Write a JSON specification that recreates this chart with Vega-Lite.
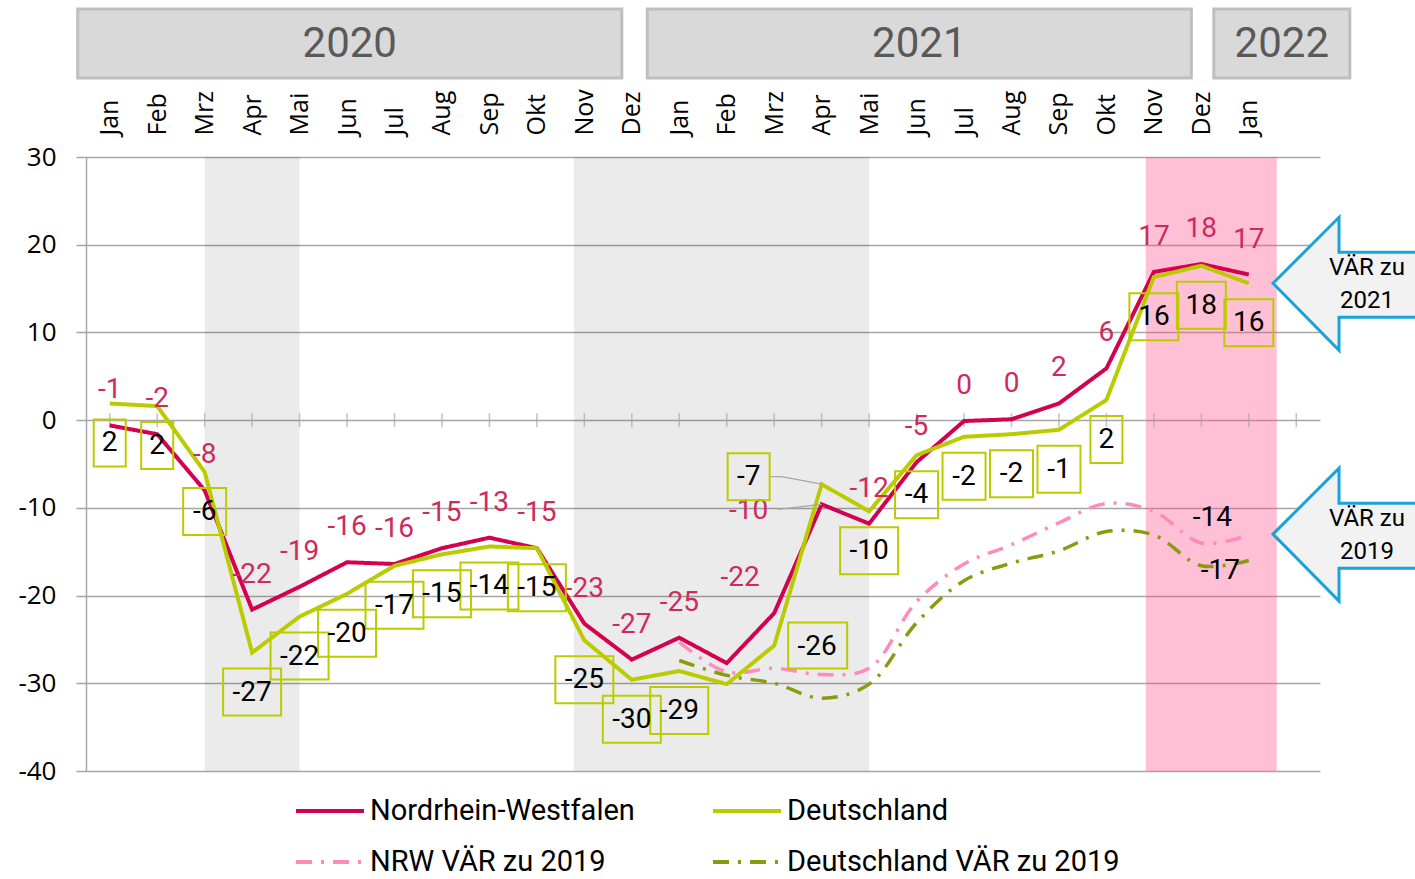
{
  "$schema": "https://vega.github.io/schema/vega-lite/v6.json",
  "width": 1234,
  "height": 614,
  "autosize": {"type": "none"},
  "padding": {"left": 86, "top": 157, "right": 95, "bottom": 108},
  "background": "white",
  "config": {
    "view": {"stroke": null},
    "font": "Roboto",
    "legend": {
      "orient": "none",
      "legendX": 208,
      "legendY": 618,
      "direction": "horizontal",
      "columns": 2,
      "columnPadding": 70,
      "rowPadding": -9,
      "symbolType": "stroke",
      "symbolSize": 4624,
      "symbolStrokeWidth": 4,
      "labelFont": "Roboto",
      "labelFontSize": 29,
      "labelColor": "black",
      "labelOffset": 4,
      "labelLimit": 0,
      "padding": 0
    }
  },
  "datasets": {
    "pts": [
      {"i": 0, "s": "Nordrhein-Westfalen", "v": -0.6, "lbl": "-1"},
      {"i": 1, "s": "Nordrhein-Westfalen", "v": -1.6, "lbl": "-2"},
      {"i": 2, "s": "Nordrhein-Westfalen", "v": -8.0, "lbl": "-8"},
      {"i": 3, "s": "Nordrhein-Westfalen", "v": -21.6, "lbl": "-22"},
      {"i": 4, "s": "Nordrhein-Westfalen", "v": -19.0, "lbl": "-19"},
      {"i": 5, "s": "Nordrhein-Westfalen", "v": -16.2, "lbl": "-16"},
      {"i": 6, "s": "Nordrhein-Westfalen", "v": -16.4, "lbl": "-16"},
      {"i": 7, "s": "Nordrhein-Westfalen", "v": -14.6, "lbl": "-15"},
      {"i": 8, "s": "Nordrhein-Westfalen", "v": -13.4, "lbl": "-13"},
      {"i": 9, "s": "Nordrhein-Westfalen", "v": -14.6, "lbl": "-15"},
      {"i": 10, "s": "Nordrhein-Westfalen", "v": -23.2, "lbl": "-23"},
      {"i": 11, "s": "Nordrhein-Westfalen", "v": -27.3, "lbl": "-27"},
      {"i": 12, "s": "Nordrhein-Westfalen", "v": -24.8, "lbl": "-25"},
      {"i": 13, "s": "Nordrhein-Westfalen", "v": -27.7, "lbl": null},
      {"i": 14, "s": "Nordrhein-Westfalen", "v": -22.0, "lbl": "-22"},
      {"i": 15, "s": "Nordrhein-Westfalen", "v": -9.6, "lbl": "-10"},
      {"i": 16, "s": "Nordrhein-Westfalen", "v": -11.8, "lbl": "-12"},
      {"i": 17, "s": "Nordrhein-Westfalen", "v": -4.8, "lbl": "-5"},
      {"i": 18, "s": "Nordrhein-Westfalen", "v": -0.1, "lbl": "0"},
      {"i": 19, "s": "Nordrhein-Westfalen", "v": 0.1, "lbl": "0"},
      {"i": 20, "s": "Nordrhein-Westfalen", "v": 1.9, "lbl": "2"},
      {"i": 21, "s": "Nordrhein-Westfalen", "v": 5.9, "lbl": "6"},
      {"i": 22, "s": "Nordrhein-Westfalen", "v": 16.9, "lbl": "17"},
      {"i": 23, "s": "Nordrhein-Westfalen", "v": 17.8, "lbl": "18"},
      {"i": 24, "s": "Nordrhein-Westfalen", "v": 16.6, "lbl": "17"},
      {"i": 0, "s": "Deutschland", "v": 1.9, "lbl": "2"},
      {"i": 1, "s": "Deutschland", "v": 1.6, "lbl": "2"},
      {"i": 2, "s": "Deutschland", "v": -5.9, "lbl": "-6"},
      {"i": 3, "s": "Deutschland", "v": -26.5, "lbl": "-27"},
      {"i": 4, "s": "Deutschland", "v": -22.4, "lbl": "-22"},
      {"i": 5, "s": "Deutschland", "v": -19.8, "lbl": "-20"},
      {"i": 6, "s": "Deutschland", "v": -16.6, "lbl": "-17"},
      {"i": 7, "s": "Deutschland", "v": -15.3, "lbl": "-15"},
      {"i": 8, "s": "Deutschland", "v": -14.4, "lbl": "-14"},
      {"i": 9, "s": "Deutschland", "v": -14.6, "lbl": "-15"},
      {"i": 10, "s": "Deutschland", "v": -25.1, "lbl": "-25"},
      {"i": 11, "s": "Deutschland", "v": -29.6, "lbl": "-30"},
      {"i": 12, "s": "Deutschland", "v": -28.6, "lbl": "-29"},
      {"i": 13, "s": "Deutschland", "v": -30.1, "lbl": null},
      {"i": 14, "s": "Deutschland", "v": -25.7, "lbl": "-26"},
      {"i": 15, "s": "Deutschland", "v": -7.3, "lbl": "-7"},
      {"i": 16, "s": "Deutschland", "v": -10.4, "lbl": "-10"},
      {"i": 17, "s": "Deutschland", "v": -4.0, "lbl": "-4"},
      {"i": 18, "s": "Deutschland", "v": -1.9, "lbl": "-2"},
      {"i": 19, "s": "Deutschland", "v": -1.6, "lbl": "-2"},
      {"i": 20, "s": "Deutschland", "v": -1.1, "lbl": "-1"},
      {"i": 21, "s": "Deutschland", "v": 2.3, "lbl": "2"},
      {"i": 22, "s": "Deutschland", "v": 16.3, "lbl": "16"},
      {"i": 23, "s": "Deutschland", "v": 17.6, "lbl": "18"},
      {"i": 24, "s": "Deutschland", "v": 15.6, "lbl": "16"},
      {"i": 12, "s": "NRW VÄR zu 2019", "v": -25.3, "lbl": null},
      {"i": 13, "s": "NRW VÄR zu 2019", "v": -28.7, "lbl": null},
      {"i": 14, "s": "NRW VÄR zu 2019", "v": -28.3, "lbl": null},
      {"i": 15, "s": "NRW VÄR zu 2019", "v": -29.0, "lbl": null},
      {"i": 16, "s": "NRW VÄR zu 2019", "v": -28.3, "lbl": null},
      {"i": 17, "s": "NRW VÄR zu 2019", "v": -20.7, "lbl": null},
      {"i": 18, "s": "NRW VÄR zu 2019", "v": -16.4, "lbl": null},
      {"i": 19, "s": "NRW VÄR zu 2019", "v": -14.2, "lbl": null},
      {"i": 20, "s": "NRW VÄR zu 2019", "v": -11.7, "lbl": null},
      {"i": 21, "s": "NRW VÄR zu 2019", "v": -9.5, "lbl": null},
      {"i": 22, "s": "NRW VÄR zu 2019", "v": -10.4, "lbl": null},
      {"i": 23, "s": "NRW VÄR zu 2019", "v": -14.0, "lbl": "-14"},
      {"i": 24, "s": "NRW VÄR zu 2019", "v": -13.1, "lbl": null},
      {"i": 12, "s": "Deutschland VÄR zu 2019", "v": -27.4, "lbl": null},
      {"i": 13, "s": "Deutschland VÄR zu 2019", "v": -29.1, "lbl": null},
      {"i": 14, "s": "Deutschland VÄR zu 2019", "v": -30.0, "lbl": null},
      {"i": 15, "s": "Deutschland VÄR zu 2019", "v": -31.7, "lbl": null},
      {"i": 16, "s": "Deutschland VÄR zu 2019", "v": -30.1, "lbl": null},
      {"i": 17, "s": "Deutschland VÄR zu 2019", "v": -23.1, "lbl": null},
      {"i": 18, "s": "Deutschland VÄR zu 2019", "v": -18.3, "lbl": null},
      {"i": 19, "s": "Deutschland VÄR zu 2019", "v": -16.3, "lbl": null},
      {"i": 20, "s": "Deutschland VÄR zu 2019", "v": -14.9, "lbl": null},
      {"i": 21, "s": "Deutschland VÄR zu 2019", "v": -12.7, "lbl": null},
      {"i": 22, "s": "Deutschland VÄR zu 2019", "v": -13.1, "lbl": null},
      {"i": 23, "s": "Deutschland VÄR zu 2019", "v": -16.6, "lbl": "-17"},
      {"i": 24, "s": "Deutschland VÄR zu 2019", "v": -16.0, "lbl": null}
    ],
    "shades": [
      {"from": 2, "to": 4, "kind": "grau"},
      {"from": 9.78, "to": 16, "kind": "grau"},
      {"from": 21.83, "to": 24.59, "kind": "rosa"}
    ],
    "months": [
      {"i": 0, "m": "Jan"}, {"i": 1, "m": "Feb"}, {"i": 2, "m": "Mrz"}, {"i": 3, "m": "Apr"},
      {"i": 4, "m": "Mai"}, {"i": 5, "m": "Jun"}, {"i": 6, "m": "Jul"}, {"i": 7, "m": "Aug"},
      {"i": 8, "m": "Sep"}, {"i": 9, "m": "Okt"}, {"i": 10, "m": "Nov"}, {"i": 11, "m": "Dez"},
      {"i": 12, "m": "Jan"}, {"i": 13, "m": "Feb"}, {"i": 14, "m": "Mrz"}, {"i": 15, "m": "Apr"},
      {"i": 16, "m": "Mai"}, {"i": 17, "m": "Jun"}, {"i": 18, "m": "Jul"}, {"i": 19, "m": "Aug"},
      {"i": 20, "m": "Sep"}, {"i": 21, "m": "Okt"}, {"i": 22, "m": "Nov"}, {"i": 23, "m": "Dez"},
      {"i": 24, "m": "Jan"}, {"i": 25, "m": ""}
    ],
    "years": [
      {"year": "2020", "first": 0, "last": 11},
      {"year": "2021", "first": 12, "last": 23},
      {"year": "2022", "first": 24, "last": 24}
    ]
  },
  "layer": [
    {
      "data": {"name": "shades"},
      "mark": {"type": "rect"},
      "encoding": {
        "x": {"field": "from", "type": "quantitative", "scale": {"domain": [-0.5, 25.5], "nice": false, "zero": false},
          "axis": {"orient": "top", "values": [0, 1, 2, 3, 4, 5, 6, 7, 8, 9, 10, 11, 12, 13, 14, 15, 16, 17, 18, 19, 20, 21, 22, 23, 24],
            "labelExpr": "['Jan','Feb','Mrz','Apr','Mai','Jun','Jul','Aug','Sep','Okt','Nov','Dez','Jan','Feb','Mrz','Apr','Mai','Jun','Jul','Aug','Sep','Okt','Nov','Dez','Jan'][datum.value]",
            "labelAngle": 270, "labelAlign": "left", "labelBaseline": "middle", "labelFont": "Open Sans", "labelFontSize": 25, "labelColor": "black",
            "labelPadding": 22, "ticks": false, "tickSize": 0, "domain": false, "grid": false, "title": null, "labelOverlap": false, "labelBound": false, "labelFlush": false}},
        "x2": {"field": "to"},
        "y": {"datum": 30, "type": "quantitative", "scale": {"domain": [-40, 30], "nice": false, "zero": false},
          "axis": {"values": [-40, -30, -20, -10, 0, 10, 20, 30], "grid": true, "gridColor": "#A6A6A6", "gridWidth": 1.5,
            "labelExpr": "datum.value < 0 ? '-' + (-datum.value) : '' + datum.value",
            "domain": true, "domainColor": "#A6A6A6", "domainWidth": 1.5, "ticks": true, "tickColor": "#A6A6A6", "tickSize": 10, "tickWidth": 1.5,
            "labelFont": "Open Sans", "labelFontSize": 26, "labelColor": "black", "labelPadding": 20, "title": null}},
        "y2": {"datum": -40},
        "fill": {"field": "kind", "type": "nominal", "scale": {"domain": ["grau", "rosa"], "range": ["rgba(0,0,0,0.08)", "rgba(255,75,138,0.35)"]}, "legend": null}
      }
    },
    {
      "data": {"name": "months"},
      "mark": {"type": "tick", "orient": "vertical", "size": 14, "thickness": 1.5, "color": "#A6A6A6"},
      "encoding": {
        "x": {"field": "i", "type": "quantitative", "scale": {"domain": [-0.5, 25.5], "nice": false, "zero": false}},
        "y": {"datum": 0, "type": "quantitative", "scale": {"domain": [-40, 30], "nice": false, "zero": false}}
      }
    },
    {
      "data": {"name": "pts"},
      "transform": [{"filter": "datum.s == 'NRW VÄR zu 2019' || datum.s == 'Deutschland VÄR zu 2019'"}],
      "mark": {"type": "line", "strokeWidth": 3.5, "interpolate": "catmull-rom"},
      "encoding": {
        "x": {"field": "i", "type": "quantitative", "scale": {"domain": [-0.5, 25.5], "nice": false, "zero": false}},
        "y": {"field": "v", "type": "quantitative", "scale": {"domain": [-40, 30], "nice": false, "zero": false}},
        "color": {"field": "s", "type": "nominal", "title": null, "scale": {"domain": ["Nordrhein-Westfalen", "Deutschland", "NRW VÄR zu 2019", "Deutschland VÄR zu 2019"], "range": ["#D40050", "#BACB00", "#FF8CB8", "#8A9B0F"]}},
        "strokeDash": {"field": "s", "type": "nominal", "title": null, "scale": {"domain": ["Nordrhein-Westfalen", "Deutschland", "NRW VÄR zu 2019", "Deutschland VÄR zu 2019"], "range": [[1, 0], [1, 0], [16, 9, 3, 9], [16, 9, 3, 9]]}}
      }
    },
    {
      "data": {"name": "pts"},
      "transform": [{"filter": "datum.s == 'Nordrhein-Westfalen'"}],
      "mark": {"type": "line", "strokeWidth": 4},
      "encoding": {
        "x": {"field": "i", "type": "quantitative", "scale": {"domain": [-0.5, 25.5], "nice": false, "zero": false}},
        "y": {"field": "v", "type": "quantitative", "scale": {"domain": [-40, 30], "nice": false, "zero": false}},
        "color": {"field": "s", "type": "nominal", "title": null, "scale": {"domain": ["Nordrhein-Westfalen", "Deutschland", "NRW VÄR zu 2019", "Deutschland VÄR zu 2019"], "range": ["#D40050", "#BACB00", "#FF8CB8", "#8A9B0F"]}},
        "strokeDash": {"field": "s", "type": "nominal", "title": null, "scale": {"domain": ["Nordrhein-Westfalen", "Deutschland", "NRW VÄR zu 2019", "Deutschland VÄR zu 2019"], "range": [[1, 0], [1, 0], [16, 9, 3, 9], [16, 9, 3, 9]]}}
      }
    },
    {
      "data": {"name": "pts"},
      "transform": [{"filter": "datum.s == 'Deutschland'"}],
      "mark": {"type": "line", "strokeWidth": 4},
      "encoding": {
        "x": {"field": "i", "type": "quantitative", "scale": {"domain": [-0.5, 25.5], "nice": false, "zero": false}},
        "y": {"field": "v", "type": "quantitative", "scale": {"domain": [-40, 30], "nice": false, "zero": false}},
        "color": {"field": "s", "type": "nominal", "title": null, "scale": {"domain": ["Nordrhein-Westfalen", "Deutschland", "NRW VÄR zu 2019", "Deutschland VÄR zu 2019"], "range": ["#D40050", "#BACB00", "#FF8CB8", "#8A9B0F"]}},
        "strokeDash": {"field": "s", "type": "nominal", "title": null, "scale": {"domain": ["Nordrhein-Westfalen", "Deutschland", "NRW VÄR zu 2019", "Deutschland VÄR zu 2019"], "range": [[1, 0], [1, 0], [16, 9, 3, 9], [16, 9, 3, 9]]}}
      }
    },
    {
      "data": {"name": "pts"},
      "transform": [{"filter": "datum.s == 'Nordrhein-Westfalen' && datum.i == 15"}],
      "mark": {"type": "rule", "color": "#A6A6A6", "strokeWidth": 1.2, "x2Offset": -44, "y2Offset": 5},
      "encoding": {
        "x": {"field": "i", "type": "quantitative", "scale": {"domain": [-0.5, 25.5], "nice": false, "zero": false}},
        "y": {"field": "v", "type": "quantitative", "scale": {"domain": [-40, 30], "nice": false, "zero": false}},
        "x2": {"field": "i"},
        "y2": {"field": "v"}
      }
    },
    {
      "data": {"name": "pts"},
      "transform": [{"filter": "datum.s == 'Deutschland' && datum.i == 15"}],
      "mark": {"type": "rule", "color": "#A6A6A6", "strokeWidth": 1.2, "x2Offset": -40, "y2Offset": -7.5},
      "encoding": {
        "x": {"field": "i", "type": "quantitative", "scale": {"domain": [-0.5, 25.5], "nice": false, "zero": false}},
        "y": {"field": "v", "type": "quantitative", "scale": {"domain": [-40, 30], "nice": false, "zero": false}},
        "x2": {"field": "i"},
        "y2": {"field": "v"}
      }
    },
    {
      "data": {"name": "pts"},
      "transform": [{"filter": "datum.s == 'Deutschland' && datum.i == 15"}],
      "mark": {"type": "rule", "color": "#A6A6A6", "strokeWidth": 1.2, "xOffset": -40, "yOffset": -7.5, "x2Offset": -52, "y2Offset": -7.5},
      "encoding": {
        "x": {"field": "i", "type": "quantitative", "scale": {"domain": [-0.5, 25.5], "nice": false, "zero": false}},
        "y": {"field": "v", "type": "quantitative", "scale": {"domain": [-40, 30], "nice": false, "zero": false}},
        "x2": {"field": "i"},
        "y2": {"field": "v"}
      }
    },
    {
      "data": {"name": "pts"},
      "transform": [{"filter": "datum.s == 'Nordrhein-Westfalen' && isValid(datum.lbl) && datum.i != 14 && datum.i != 15"}],
      "mark": {"type": "text", "font": "Roboto", "fontSize": 28, "color": "#CD2A5E", "align": "center", "baseline": "middle", "dy": -35},
      "encoding": {
        "x": {"field": "i", "type": "quantitative", "scale": {"domain": [-0.5, 25.5], "nice": false, "zero": false}},
        "y": {"field": "v", "type": "quantitative", "scale": {"domain": [-40, 30], "nice": false, "zero": false}},
        "text": {"field": "lbl", "type": "nominal"}
      }
    },
    {
      "data": {"name": "pts"},
      "transform": [{"filter": "datum.s == 'Nordrhein-Westfalen' && datum.i == 14"}],
      "mark": {"type": "text", "font": "Roboto", "fontSize": 28, "color": "#CD2A5E", "align": "center", "baseline": "middle", "dx": -34, "dy": -35},
      "encoding": {
        "x": {"field": "i", "type": "quantitative", "scale": {"domain": [-0.5, 25.5], "nice": false, "zero": false}},
        "y": {"field": "v", "type": "quantitative", "scale": {"domain": [-40, 30], "nice": false, "zero": false}},
        "text": {"field": "lbl", "type": "nominal"}
      }
    },
    {
      "data": {"name": "pts"},
      "transform": [{"filter": "datum.s == 'Nordrhein-Westfalen' && datum.i == 15"}],
      "mark": {"type": "text", "font": "Roboto", "fontSize": 28, "color": "#CD2A5E", "align": "center", "baseline": "middle", "dx": -73, "dy": 7},
      "encoding": {
        "x": {"field": "i", "type": "quantitative", "scale": {"domain": [-0.5, 25.5], "nice": false, "zero": false}},
        "y": {"field": "v", "type": "quantitative", "scale": {"domain": [-40, 30], "nice": false, "zero": false}},
        "text": {"field": "lbl", "type": "nominal"}
      }
    },
    {
      "data": {"name": "pts"},
      "transform": [{"filter": "datum.s == 'Deutschland' && isValid(datum.lbl) && datum.i != 14 && datum.i != 15 && length(datum.lbl) == 1"}],
      "mark": {"type": "point", "filled": false, "size": 4, "opacity": 1, "stroke": "#BCCB00", "strokeWidth": 2, "shape": "M -16 16 L 16 16 L 16 63 L -16 63 Z"},
      "encoding": {
        "x": {"field": "i", "type": "quantitative", "scale": {"domain": [-0.5, 25.5], "nice": false, "zero": false}},
        "y": {"field": "v", "type": "quantitative", "scale": {"domain": [-40, 30], "nice": false, "zero": false}}
      }
    },
    {
      "data": {"name": "pts"},
      "transform": [{"filter": "datum.s == 'Deutschland' && isValid(datum.lbl) && datum.i != 14 && datum.i != 15 && length(datum.lbl) == 2 && indexof(datum.lbl, '-') == 0"}],
      "mark": {"type": "point", "filled": false, "size": 4, "opacity": 1, "stroke": "#BCCB00", "strokeWidth": 2, "shape": "M -21.5 16 L 21.5 16 L 21.5 63 L -21.5 63 Z"},
      "encoding": {
        "x": {"field": "i", "type": "quantitative", "scale": {"domain": [-0.5, 25.5], "nice": false, "zero": false}},
        "y": {"field": "v", "type": "quantitative", "scale": {"domain": [-40, 30], "nice": false, "zero": false}}
      }
    },
    {
      "data": {"name": "pts"},
      "transform": [{"filter": "datum.s == 'Deutschland' && isValid(datum.lbl) && datum.i != 14 && datum.i != 15 && length(datum.lbl) == 2 && indexof(datum.lbl, '-') < 0"}],
      "mark": {"type": "point", "filled": false, "size": 4, "opacity": 1, "stroke": "#BCCB00", "strokeWidth": 2, "shape": "M -24.5 16 L 24.5 16 L 24.5 63 L -24.5 63 Z"},
      "encoding": {
        "x": {"field": "i", "type": "quantitative", "scale": {"domain": [-0.5, 25.5], "nice": false, "zero": false}},
        "y": {"field": "v", "type": "quantitative", "scale": {"domain": [-40, 30], "nice": false, "zero": false}}
      }
    },
    {
      "data": {"name": "pts"},
      "transform": [{"filter": "datum.s == 'Deutschland' && isValid(datum.lbl) && datum.i != 14 && datum.i != 15 && length(datum.lbl) == 3"}],
      "mark": {"type": "point", "filled": false, "size": 4, "opacity": 1, "stroke": "#BCCB00", "strokeWidth": 2, "shape": "M -29 16 L 29 16 L 29 63 L -29 63 Z"},
      "encoding": {
        "x": {"field": "i", "type": "quantitative", "scale": {"domain": [-0.5, 25.5], "nice": false, "zero": false}},
        "y": {"field": "v", "type": "quantitative", "scale": {"domain": [-40, 30], "nice": false, "zero": false}}
      }
    },
    {
      "data": {"name": "pts"},
      "transform": [{"filter": "datum.s == 'Deutschland' && datum.i == 14"}],
      "mark": {"type": "point", "filled": false, "size": 4, "opacity": 1, "stroke": "#BCCB00", "strokeWidth": 2, "shape": "M 14 -23 L 73 -23 L 73 23 L 14 23 Z"},
      "encoding": {
        "x": {"field": "i", "type": "quantitative", "scale": {"domain": [-0.5, 25.5], "nice": false, "zero": false}},
        "y": {"field": "v", "type": "quantitative", "scale": {"domain": [-40, 30], "nice": false, "zero": false}}
      }
    },
    {
      "data": {"name": "pts"},
      "transform": [{"filter": "datum.s == 'Deutschland' && datum.i == 15"}],
      "mark": {"type": "point", "filled": false, "size": 4, "opacity": 1, "stroke": "#BCCB00", "strokeWidth": 2, "shape": "M -94 -31 L -52 -31 L -52 16 L -94 16 Z"},
      "encoding": {
        "x": {"field": "i", "type": "quantitative", "scale": {"domain": [-0.5, 25.5], "nice": false, "zero": false}},
        "y": {"field": "v", "type": "quantitative", "scale": {"domain": [-40, 30], "nice": false, "zero": false}}
      }
    },
    {
      "data": {"name": "pts"},
      "transform": [{"filter": "datum.s == 'Deutschland' && isValid(datum.lbl) && datum.i != 14 && datum.i != 15"}],
      "mark": {"type": "text", "font": "Roboto", "fontSize": 28, "color": "black", "align": "center", "baseline": "middle", "dy": 40},
      "encoding": {
        "x": {"field": "i", "type": "quantitative", "scale": {"domain": [-0.5, 25.5], "nice": false, "zero": false}},
        "y": {"field": "v", "type": "quantitative", "scale": {"domain": [-40, 30], "nice": false, "zero": false}},
        "text": {"field": "lbl", "type": "nominal"}
      }
    },
    {
      "data": {"name": "pts"},
      "transform": [{"filter": "datum.s == 'Deutschland' && datum.i == 14"}],
      "mark": {"type": "text", "font": "Roboto", "fontSize": 28, "color": "black", "align": "center", "baseline": "middle", "dx": 43, "dy": 1},
      "encoding": {
        "x": {"field": "i", "type": "quantitative", "scale": {"domain": [-0.5, 25.5], "nice": false, "zero": false}},
        "y": {"field": "v", "type": "quantitative", "scale": {"domain": [-40, 30], "nice": false, "zero": false}},
        "text": {"field": "lbl", "type": "nominal"}
      }
    },
    {
      "data": {"name": "pts"},
      "transform": [{"filter": "datum.s == 'Deutschland' && datum.i == 15"}],
      "mark": {"type": "text", "font": "Roboto", "fontSize": 28, "color": "black", "align": "center", "baseline": "middle", "dx": -73, "dy": -7},
      "encoding": {
        "x": {"field": "i", "type": "quantitative", "scale": {"domain": [-0.5, 25.5], "nice": false, "zero": false}},
        "y": {"field": "v", "type": "quantitative", "scale": {"domain": [-40, 30], "nice": false, "zero": false}},
        "text": {"field": "lbl", "type": "nominal"}
      }
    },
    {
      "data": {"name": "pts"},
      "transform": [{"filter": "datum.s == 'NRW VÄR zu 2019' && isValid(datum.lbl)"}],
      "mark": {"type": "text", "font": "Roboto", "fontSize": 28, "color": "black", "align": "center", "baseline": "middle", "dx": 11, "dy": -25},
      "encoding": {
        "x": {"field": "i", "type": "quantitative", "scale": {"domain": [-0.5, 25.5], "nice": false, "zero": false}},
        "y": {"field": "v", "type": "quantitative", "scale": {"domain": [-40, 30], "nice": false, "zero": false}},
        "text": {"field": "lbl", "type": "nominal"}
      }
    },
    {
      "data": {"name": "pts"},
      "transform": [{"filter": "datum.s == 'Deutschland VÄR zu 2019' && isValid(datum.lbl)"}],
      "mark": {"type": "text", "font": "Roboto", "fontSize": 28, "color": "black", "align": "center", "baseline": "middle", "dx": 19, "dy": 5},
      "encoding": {
        "x": {"field": "i", "type": "quantitative", "scale": {"domain": [-0.5, 25.5], "nice": false, "zero": false}},
        "y": {"field": "v", "type": "quantitative", "scale": {"domain": [-40, 30], "nice": false, "zero": false}},
        "text": {"field": "lbl", "type": "nominal"}
      }
    },
    {
      "data": {"name": "years"},
      "transform": [{"filter": "datum.first < 24"}],
      "mark": {"type": "rect", "fill": "#D9D9D9", "stroke": "#BFBFBF", "strokeWidth": 3, "xOffset": -32, "x2Offset": -10, "yOffset": -148, "y2Offset": -79},
      "encoding": {
        "x": {"field": "first", "type": "quantitative", "scale": {"domain": [-0.5, 25.5], "nice": false, "zero": false}},
        "x2": {"field": "last"},
        "y": {"datum": 30, "type": "quantitative", "scale": {"domain": [-40, 30], "nice": false, "zero": false}},
        "y2": {"datum": 30}
      }
    },
    {
      "data": {"name": "years"},
      "transform": [{"filter": "datum.first == 24"}],
      "mark": {"type": "rect", "fill": "#D9D9D9", "stroke": "#BFBFBF", "strokeWidth": 3, "xOffset": -35, "x2Offset": 101, "yOffset": -148, "y2Offset": -79},
      "encoding": {
        "x": {"field": "first", "type": "quantitative", "scale": {"domain": [-0.5, 25.5], "nice": false, "zero": false}},
        "x2": {"field": "last"},
        "y": {"datum": 30, "type": "quantitative", "scale": {"domain": [-40, 30], "nice": false, "zero": false}},
        "y2": {"datum": 30}
      }
    },
    {
      "data": {"name": "years"},
      "transform": [{"filter": "datum.first < 24"}],
      "mark": {"type": "text", "font": "Roboto", "fontSize": 42, "color": "#595959", "align": "center", "baseline": "middle", "dx": 240, "dy": -113},
      "encoding": {
        "x": {"field": "first", "type": "quantitative", "scale": {"domain": [-0.5, 25.5], "nice": false, "zero": false}},
        "y": {"datum": 30, "type": "quantitative", "scale": {"domain": [-40, 30], "nice": false, "zero": false}},
        "text": {"field": "year", "type": "nominal"}
      }
    },
    {
      "data": {"name": "years"},
      "transform": [{"filter": "datum.first == 24"}],
      "mark": {"type": "text", "font": "Roboto", "fontSize": 42, "color": "#595959", "align": "center", "baseline": "middle", "dx": 33, "dy": -113},
      "encoding": {
        "x": {"field": "first", "type": "quantitative", "scale": {"domain": [-0.5, 25.5], "nice": false, "zero": false}},
        "y": {"datum": 30, "type": "quantitative", "scale": {"domain": [-40, 30], "nice": false, "zero": false}},
        "text": {"field": "year", "type": "nominal"}
      }
    },
    {
      "data": {"values": [{"t": ["VÄR zu", "2021"]}]},
      "mark": {"type": "point", "filled": true, "size": 4, "opacity": 1, "fill": "#F2F2F2", "stroke": "#1AA3D8", "strokeWidth": 3, "shape": "M 0 0 L 66 -66 L 66 -31 L 160 -31 L 160 34 L 66 34 L 66 67 Z"},
      "encoding": {
        "x": {"datum": 24.51, "type": "quantitative", "scale": {"domain": [-0.5, 25.5], "nice": false, "zero": false}},
        "y": {"datum": 15.6, "type": "quantitative", "scale": {"domain": [-40, 30], "nice": false, "zero": false}}
      }
    },
    {
      "data": {"values": [{"t": ["VÄR zu", "2021"]}]},
      "mark": {"type": "text", "font": "Roboto", "fontSize": 24, "color": "black", "align": "center", "baseline": "middle", "lineHeight": 33, "dx": 94, "dy": -15},
      "encoding": {
        "x": {"datum": 24.51, "type": "quantitative", "scale": {"domain": [-0.5, 25.5], "nice": false, "zero": false}},
        "y": {"datum": 15.6, "type": "quantitative", "scale": {"domain": [-40, 30], "nice": false, "zero": false}},
        "text": {"field": "t"}
      }
    },
    {
      "data": {"values": [{"t": ["VÄR zu", "2019"]}]},
      "mark": {"type": "point", "filled": true, "size": 4, "opacity": 1, "fill": "#F2F2F2", "stroke": "#1AA3D8", "strokeWidth": 3, "shape": "M 0 0 L 66 -66 L 66 -31 L 160 -31 L 160 34 L 66 34 L 66 67 Z"},
      "encoding": {
        "x": {"datum": 24.51, "type": "quantitative", "scale": {"domain": [-0.5, 25.5], "nice": false, "zero": false}},
        "y": {"datum": -13.0, "type": "quantitative", "scale": {"domain": [-40, 30], "nice": false, "zero": false}}
      }
    },
    {
      "data": {"values": [{"t": ["VÄR zu", "2019"]}]},
      "mark": {"type": "text", "font": "Roboto", "fontSize": 24, "color": "black", "align": "center", "baseline": "middle", "lineHeight": 33, "dx": 94, "dy": -15},
      "encoding": {
        "x": {"datum": 24.51, "type": "quantitative", "scale": {"domain": [-0.5, 25.5], "nice": false, "zero": false}},
        "y": {"datum": -13.0, "type": "quantitative", "scale": {"domain": [-40, 30], "nice": false, "zero": false}},
        "text": {"field": "t"}
      }
    }
  ]
}
